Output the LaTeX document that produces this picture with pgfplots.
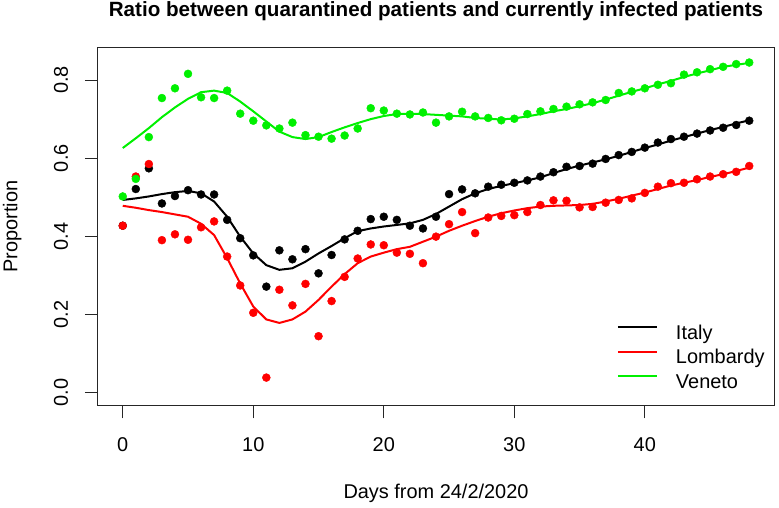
\documentclass[border=0pt]{standalone}
\usepackage{pgfplots}
\usepackage{pgfplotstable}
\pgfplotsset{compat=1.18}
\usepackage{fontspec}
\setmainfont{Liberation Sans}
\definecolor{rgreen}{RGB}{0,240,0}
\definecolor{rred}{RGB}{255,0,0}
\pgfplotstableread{
day itp itl lop lol vep vel
0 0.427 0.493 0.427 0.478 0.502 0.626
1 0.521 0.497 0.553 0.473 0.547 0.651
2 0.574 0.502 0.585 0.467 0.654 0.677
3 0.484 0.508 0.390 0.462 0.754 0.705
4 0.503 0.513 0.405 0.456 0.779 0.730
5 0.518 0.516 0.391 0.450 0.816 0.752
6 0.507 0.510 0.423 0.432 0.756 0.769
7 0.507 0.489 0.438 0.403 0.754 0.773
8 0.442 0.450 0.348 0.344 0.773 0.767
9 0.395 0.399 0.274 0.279 0.714 0.745
10 0.351 0.356 0.204 0.220 0.696 0.720
11 0.271 0.326 0.038 0.187 0.684 0.694
12 0.364 0.314 0.263 0.178 0.676 0.668
13 0.341 0.318 0.223 0.187 0.691 0.654
14 0.367 0.335 0.278 0.207 0.659 0.649
15 0.305 0.356 0.144 0.237 0.655 0.654
16 0.352 0.375 0.234 0.271 0.650 0.667
17 0.392 0.395 0.296 0.303 0.658 0.679
18 0.414 0.413 0.343 0.331 0.676 0.690
19 0.444 0.420 0.379 0.348 0.728 0.700
20 0.450 0.425 0.377 0.358 0.722 0.708
21 0.442 0.429 0.358 0.367 0.714 0.713
22 0.427 0.433 0.355 0.373 0.712 0.714
23 0.420 0.442 0.331 0.386 0.717 0.713
24 0.450 0.457 0.399 0.399 0.691 0.711
25 0.508 0.476 0.431 0.414 0.707 0.709
26 0.520 0.495 0.462 0.427 0.719 0.707
27 0.510 0.510 0.408 0.439 0.707 0.703
28 0.527 0.521 0.448 0.450 0.703 0.701
29 0.532 0.529 0.452 0.459 0.697 0.699
30 0.537 0.536 0.454 0.466 0.701 0.702
31 0.543 0.543 0.462 0.472 0.713 0.707
32 0.553 0.551 0.480 0.476 0.720 0.713
33 0.564 0.562 0.492 0.478 0.726 0.720
34 0.578 0.572 0.491 0.479 0.732 0.726
35 0.580 0.581 0.474 0.480 0.738 0.733
36 0.586 0.589 0.475 0.483 0.743 0.741
37 0.598 0.597 0.486 0.489 0.749 0.750
38 0.608 0.606 0.493 0.496 0.767 0.760
39 0.616 0.616 0.497 0.504 0.771 0.770
40 0.627 0.626 0.511 0.512 0.779 0.779
41 0.640 0.635 0.527 0.521 0.788 0.789
42 0.649 0.645 0.536 0.530 0.792 0.798
43 0.655 0.654 0.537 0.537 0.814 0.808
44 0.663 0.663 0.546 0.544 0.820 0.817
45 0.671 0.672 0.553 0.552 0.828 0.825
46 0.678 0.680 0.559 0.559 0.834 0.834
47 0.685 0.689 0.565 0.567 0.841 0.839
48 0.696 0.697 0.580 0.576 0.845 0.844
}\data
\begin{document}
\begin{tikzpicture}[font=\fontsize{20}{24}\selectfont]
\begin{axis}[name=ax,
  width=676.6bp, height=358.4bp, scale only axis,
  xmin=-1.92, xmax=49.92, ymin=-0.034, ymax=0.884,
  axis line style={line width=1bp, black!85},
  xtick={0,10,20,30,40}, ytick={0,0.2,0.4,0.6,0.8},
  tick align=outside, tick pos=left, major tick length=12.7bp,
  tick style={line width=1bp, black!85},
  /pgf/number format/assume math mode=true,
  yticklabel={\pgfmathprintnumber[fixed, fixed zerofill, precision=1]{\tick}},
  yticklabel style={rotate=90, anchor=south, inner sep=0pt},
  xticklabel style={anchor=base, inner sep=0pt},
  xticklabel shift=33bp, yticklabel shift=16.7bp,
  xlabel={Days from 24/2/2020},
  xlabel style={at={([yshift=-92.6bp]axis description cs:0.5,0)}, anchor=base, inner sep=0pt},
  ylabel={Proportion},
  ylabel style={at={([xshift=-80.4bp]axis description cs:0,0.5)}, anchor=base, inner sep=0pt},
  title={Ratio between quarantined patients and currently infected patients},
  title style={at={([yshift=25.3bp]axis description cs:0.5,1)}, anchor=base, inner sep=0pt, font=\fontsize{20.7}{24}\selectfont\bfseries},
  legend style={draw=none, fill=none, at={(axis description cs:0.7675,0.2243)}, anchor=north west,
    inner sep=0pt, outer sep=0pt, row sep=6.4bp, column sep=18bp,
    nodes={inner sep=0pt, text height=14bp, text depth=4bp}},
  legend cell align=left,
  legend image code/.code={\draw[#1, line width=2bp] (0bp,7bp) -- (39bp,7bp);},
  every axis plot/.append style={line width=2bp},
]
\addplot[only marks, mark=*, mark size=4bp, mark options={line width=0.4bp}, black, forget plot] table[x=day, y=itp] {\data};
\addplot[only marks, mark=*, mark size=4bp, mark options={line width=0.4bp}, rred, forget plot] table[x=day, y=lop] {\data};
\addplot[only marks, mark=*, mark size=4bp, mark options={line width=0.4bp}, rgreen, forget plot] table[x=day, y=vep] {\data};
\addplot[black, no marks] table[x=day, y=itl] {\data};
\addlegendentry{Italy}
\addplot[rred, no marks] table[x=day, y=lol] {\data};
\addlegendentry{Lombardy}
\addplot[rgreen, no marks] table[x=day, y=vel] {\data};
\addlegendentry{Veneto}
\end{axis}
\pgfresetboundingbox
\path (ax.south west) ++(-97.7bp,-102.3bp) rectangle ++(779bp,508bp);
\end{tikzpicture}
\end{document}
